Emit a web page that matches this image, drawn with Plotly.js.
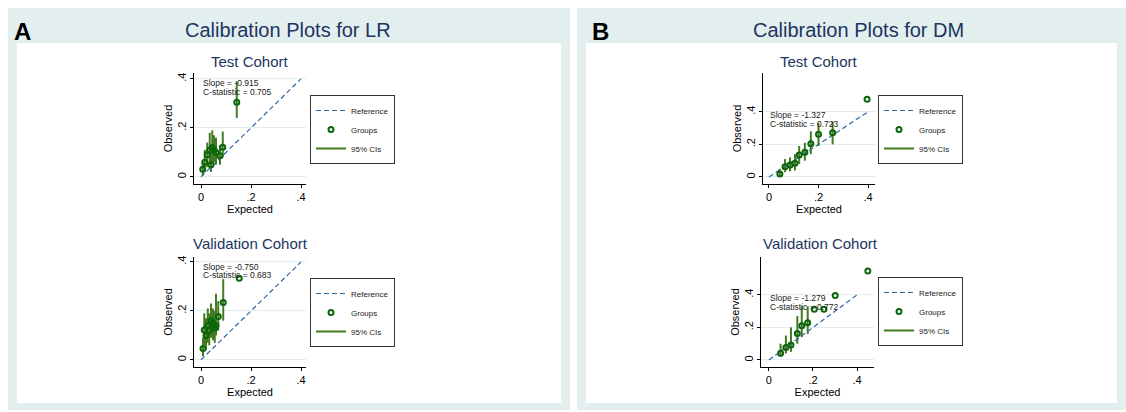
<!DOCTYPE html>
<html>
<head>
<meta charset="utf-8">
<script src="https://cdn.plot.ly/plotly-3.0.1.min.js"></script>
<style>html,body{margin:0;padding:0;background:#fff;}#chart{width:1126px;height:412px;}</style>
</head>
<body>
<div id="chart"></div>
<script>
// ---- data ----
const panelTitles = ["Calibration Plots for LR", "Calibration Plots for DM"];
const panelLetters = ["A", "B"];
const cohortTitles = ["Test Cohort", "Validation Cohort"];
const legendLabels = ["Reference", "Groups", "95% CIs"];
const tickVals = [0, 0.2, 0.4];
const tickText = ["0", ".2", ".4"];
const refX = [0, 0.4];
const refY = [0, 0.4];

// LR - test cohort
const lrTestExp = [0.007, 0.015, 0.025, 0.035, 0.040, 0.045, 0.052, 0.060, 0.076, 0.087, 0.143];
const lrTestObs = [0.031, 0.060, 0.090, 0.110, 0.050, 0.120, 0.110, 0.100, 0.086, 0.121, 0.305];
const lrTestLo  = [0.005, 0.020, 0.040, 0.050, 0.020, 0.060, 0.060, 0.050, 0.050, 0.080, 0.240];
const lrTestHi  = [0.060, 0.110, 0.140, 0.180, 0.100, 0.190, 0.170, 0.160, 0.130, 0.185, 0.390];
const lrTestStats = ["Slope = -0.915", "C-statistic = 0.705"];

// LR - validation cohort
const lrValExp = [0.008, 0.013, 0.020, 0.027, 0.033, 0.040, 0.048, 0.055, 0.060, 0.069, 0.089, 0.153];
const lrValObs = [0.047, 0.122, 0.100, 0.140, 0.120, 0.160, 0.150, 0.130, 0.140, 0.177, 0.234, 0.333];
const lrValLo  = [0.015, 0.060, 0.040, 0.070, 0.060, 0.090, 0.080, 0.070, 0.100, 0.120, 0.160, null];
const lrValHi  = [0.090, 0.190, 0.170, 0.210, 0.190, 0.230, 0.210, 0.200, 0.270, 0.240, 0.330, null];
const lrValStats = ["Slope = -0.750", "C-statistic = 0.683"];

// DM - test cohort
const dmTestExp = [0.044, 0.065, 0.085, 0.105, 0.122, 0.145, 0.169, 0.200, 0.257, 0.396];
const dmTestObs = [0.018, 0.063, 0.074, 0.084, 0.135, 0.152, 0.204, 0.262, 0.272, 0.477];
const dmTestLo  = [0.000, 0.030, 0.035, 0.040, 0.080, 0.100, 0.140, 0.190, 0.200, null];
const dmTestHi  = [0.050, 0.110, 0.120, 0.140, 0.190, 0.210, 0.280, 0.330, 0.340, null];
const dmTestStats = ["Slope = -1.327", "C-statistic = 0.723"];

// DM - validation cohort
const dmValExp = [0.053, 0.077, 0.100, 0.129, 0.149, 0.176, 0.206, 0.250, 0.301, 0.449];
const dmValObs = [0.041, 0.076, 0.092, 0.163, 0.210, 0.229, 0.311, 0.311, 0.395, 0.546];
const dmValLo  = [0.020, 0.040, 0.050, 0.100, 0.140, 0.160, null, null, null, null];
const dmValHi  = [0.100, 0.150, 0.200, 0.270, 0.330, 0.330, null, null, null, null];
const dmValStats = ["Slope = -1.279", "C-statistic = 0.772"];

// ---- styling ----
const navy = "#1b3560";
const refColor = "#2f68a3";
const grpColor = "#0b650b";
const ciColor = "#457b20";
const panelBg = "#e3eeee";
const gridColor = "#e2eded";
const FONT = "Liberation Sans, Arial, sans-serif";

const subplots = [
  {ax: "", exp: lrTestExp, obs: lrTestObs, lo: lrTestLo, hi: lrTestHi, stats: lrTestStats, leg: "legend",
   xdom: [194/1126, 306/1126], ydom: [1-184/412, 1-73/412], xr: [-0.028, 0.42], yr: [-0.029, 0.424],
   statY: [0.382, 0.346], legX: 310/1126, legY: 1-95/412},
  {ax: "2", exp: lrValExp, obs: lrValObs, lo: lrValLo, hi: lrValHi, stats: lrValStats, leg: "legend2",
   xdom: [194/1126, 306/1126], ydom: [1-367/412, 1-257/412], xr: [-0.028, 0.42], yr: [-0.029, 0.420],
   statY: [0.378, 0.346], legX: 310/1126, legY: 1-278/412},
  {ax: "3", exp: dmTestExp, obs: dmTestObs, lo: dmTestLo, hi: dmTestHi, stats: dmTestStats, leg: "legend3",
   xdom: [763/1126, 875/1126], ydom: [1-184/412, 1-73/412], xr: [-0.024, 0.428], yr: [-0.043, 0.638],
   statY: [0.380, 0.326], legX: 878/1126, legY: 1-95/412},
  {ax: "4", exp: dmValExp, obs: dmValObs, lo: dmValLo, hi: dmValHi, stats: dmValStats, leg: "legend4",
   xdom: [761/1126, 874/1126], ydom: [1-367/412, 1-257/412], xr: [-0.036, 0.477], yr: [-0.043, 0.632],
   statY: [0.378, 0.326], legX: 878/1126, legY: 1-277/412}
];

const traces = [];
const layout = {
  width: 1126, height: 412,
  margin: {l: 0, r: 0, t: 0, b: 0},
  paper_bgcolor: "#ffffff",
  plot_bgcolor: "rgba(0,0,0,0)",
  font: {family: FONT, color: "#000"},
  showlegend: true,
  annotations: [],
  shapes: [
    {type: "rect", xref: "paper", yref: "paper", x0: 8/1126, x1: 570/1126, y0: 1-410/412, y1: 1-8/412,
     fillcolor: panelBg, line: {width: 0}, layer: "below"},
    {type: "rect", xref: "paper", yref: "paper", x0: 17/1126, x1: 561/1126, y0: 1-403/412, y1: 1-43/412,
     fillcolor: "#ffffff", line: {width: 0}, layer: "below"},
    {type: "rect", xref: "paper", yref: "paper", x0: 577/1126, x1: 1126/1126, y0: 1-410/412, y1: 1-8/412,
     fillcolor: panelBg, line: {width: 0}, layer: "below"},
    {type: "rect", xref: "paper", yref: "paper", x0: 586/1126, x1: 1117/1126, y0: 1-403/412, y1: 1-43/412,
     fillcolor: "#ffffff", line: {width: 0}, layer: "below"}
  ]
};

subplots.forEach((s) => {
  const xa = "x" + s.ax, ya = "y" + s.ax;
  const ciX = [], ciY = [];
  s.exp.forEach((v, i) => {
    if (s.lo[i] !== null && s.hi[i] !== null) {
      ciX.push(v, v, null);
      ciY.push(s.lo[i], s.hi[i], null);
    }
  });
  traces.push({type: "scatter", mode: "lines", x: ciX, y: ciY, xaxis: xa, yaxis: ya,
    name: legendLabels[2], legend: s.leg, legendrank: 3,
    line: {color: ciColor, width: 2}, hoverinfo: "skip"});
  traces.push({type: "scatter", mode: "lines", x: refX, y: refY, xaxis: xa, yaxis: ya,
    name: legendLabels[0], legend: s.leg, legendrank: 1,
    line: {color: refColor, width: 1.2, dash: "5px,3px"}});
  traces.push({type: "scatter", mode: "markers", x: s.exp, y: s.obs, xaxis: xa, yaxis: ya,
    name: legendLabels[1], legend: s.leg, legendrank: 2,
    marker: {symbol: "circle-open", size: 5, color: grpColor, line: {width: 2, color: grpColor}}});

  const axBase = {showline: true, linecolor: "#000", linewidth: 1, ticks: "outside", ticklen: 3,
    tickcolor: "#000", tickwidth: 1, zeroline: false, tickvals: tickVals, ticktext: tickText,
    tickfont: {size: 11, family: FONT, color: "#000"}, fixedrange: true};
  layout["xaxis" + s.ax] = Object.assign({}, axBase, {domain: s.xdom, range: s.xr, anchor: ya,
    showgrid: false, title: {text: "Expected", font: {size: 11, family: FONT, color: "#000"}, standoff: 0}});
  layout["yaxis" + s.ax] = Object.assign({}, axBase, {domain: s.ydom, range: s.yr, anchor: xa,
    showgrid: true, gridcolor: gridColor, gridwidth: 1, tickangle: -90,
    title: {text: "Observed", font: {size: 11, family: FONT, color: "#000"}, standoff: 0}});

  layout[s.leg] = {x: s.legX, y: s.legY, xanchor: "left", yanchor: "top", xref: "paper", yref: "paper",
    bgcolor: "#ffffff", bordercolor: "#333", borderwidth: 1, font: {size: 8, family: FONT, color: "#222"},
    traceorder: "normal", tracegroupgap: 0, itemwidth: 30};

  s.stats.forEach((t, k) => {
    layout.annotations.push({xref: xa, yref: ya, x: -0.002, y: s.statY[k], text: t, showarrow: false,
      xanchor: "left", yanchor: "middle", font: {size: 8.5, family: FONT, color: "#222"}});
  });
});

// titles
const titleCenters = [288, 858];
panelTitles.forEach((t, i) => {
  layout.annotations.push({xref: "paper", yref: "paper", x: titleCenters[i]/1126, y: 1-30/412, text: t,
    showarrow: false, xanchor: "center", yanchor: "middle", font: {size: 20, family: FONT, color: navy}});
});
const letterX = [12, 590];
panelLetters.forEach((t, i) => {
  layout.annotations.push({xref: "paper", yref: "paper", x: letterX[i]/1126, y: 1-32/412, text: "<b>" + t + "</b>",
    showarrow: false, xanchor: "left", yanchor: "middle", font: {size: 24, family: FONT, color: "#000"}});
});
const cohortCenters = [[250, 62], [250, 244], [819, 62], [820, 244]];
cohortCenters.forEach((c, i) => {
  layout.annotations.push({xref: "paper", yref: "paper", x: c[0]/1126, y: 1-c[1]/412, text: cohortTitles[i % 2],
    showarrow: false, xanchor: "center", yanchor: "middle", font: {size: 15, family: FONT, color: navy}});
});

Plotly.newPlot("chart", traces, layout, {displayModeBar: false, staticPlot: true});
</script>
</body>
</html>
